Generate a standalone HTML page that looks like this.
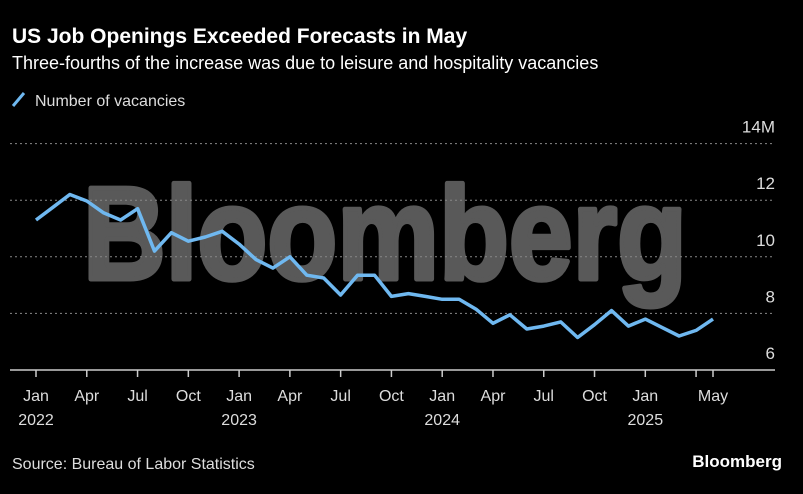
<!DOCTYPE html>
<html><head><meta charset="utf-8"><style>
body{margin:0;background:#000;width:803px;height:489px;overflow:hidden;font-family:"Liberation Sans",sans-serif;color:#fff}
</style></head><body>
<svg width="803" height="489" xmlns="http://www.w3.org/2000/svg">
<text x="12" y="43" font-size="21" font-weight="bold" fill="#fff">US Job Openings Exceeded Forecasts in May</text>
<text x="12" y="69" font-size="18" fill="#fff">Three-fourths of the increase was due to leisure and hospitality vacancies</text>
<g><line x1="13" y1="106" x2="24" y2="93" stroke="#6fb8f0" stroke-width="3"/><text x="35" y="106" font-size="16" fill="#ddd">Number of vacancies</text></g>
<text x="385" y="279" font-size="132" font-weight="bold" fill="#595959" stroke="#595959" stroke-width="5" stroke-linejoin="round" text-anchor="middle" textLength="604" lengthAdjust="spacingAndGlyphs">Bloomberg</text>
<g id="grid"></g><g id="axes"></g><path id="line" fill="none" stroke="#6fb8f0" stroke-width="3.5" stroke-linejoin="round"/>
<text x="12" y="469" font-size="16" fill="#ddd">Source: Bureau of Labor Statistics</text>
<text x="782" y="467" font-size="17" font-weight="bold" fill="#fff" text-anchor="end">Bloomberg</text>
</svg>
<script>
const values=[11.3,11.75,12.2,11.97,11.55,11.3,11.7,10.2,10.85,10.55,10.7,10.9,10.45,9.9,9.6,10.0,9.35,9.25,8.65,9.35,9.35,8.6,8.7,8.6,8.5,8.5,8.15,7.65,7.95,7.45,7.55,7.7,7.15,7.6,8.1,7.55,7.8,7.5,7.2,7.4,7.8];
const yTicks=[6,8,10,12,14];
const xTickMonths=[0,3,6,9,12,15,18,21,24,27,30,33,36,39,40];
const xTickLabels=["Jan","Apr","Jul","Oct","Jan","Apr","Jul","Oct","Jan","Apr","Jul","Oct","Jan","","May"];
const yearLabels=[[0,"2022"],[12,"2023"],[24,"2024"],[36,"2025"]];
const NS="http://www.w3.org/2000/svg";
const x=m=>36+m*(713-36)/40;
const y=v=>370-(v-6)*28.3;
function mk(t,a,p){const e=document.createElementNS(NS,t);for(const k in a)e.setAttribute(k,a[k]);p.appendChild(e);return e;}
const grid=document.getElementById('grid'),axes=document.getElementById('axes');
yTicks.forEach(v=>{
 if(v>6){const l=mk('line',{x1:10,x2:775,y1:y(v),y2:y(v),stroke:'#888','stroke-dasharray':'2,3','stroke-width':1},grid);
 
 }
 const t=mk('text',{x:775,y:y(v)-11,'font-size':17,fill:'#ddd','text-anchor':'end'},axes);t.textContent=v===14?'14M':v;
 
 
});
const ax=mk('line',{x1:10,x2:775,y1:370,y2:370,stroke:'#ccc','stroke-width':1.5},axes);


xTickMonths.forEach((m,i)=>{
 mk('line',{x1:x(m),x2:x(m),y1:370,y2:377,stroke:'#ccc','stroke-width':1.5},axes);
 if(xTickLabels[i]){const t=mk('text',{x:x(m),y:401,'font-size':16,fill:'#ddd','text-anchor':'middle'},axes);t.textContent=xTickLabels[i];
 
 }
});
yearLabels.forEach(([m,s])=>{const t=mk('text',{x:x(m),y:425,'font-size':16,fill:'#ddd','text-anchor':'middle'},axes);t.textContent=s;
 
 });
document.getElementById('line').setAttribute('d',values.map((v,i)=>(i?'L':'M')+x(i).toFixed(1)+','+y(v).toFixed(1)).join(''));
</script>
</body></html>
